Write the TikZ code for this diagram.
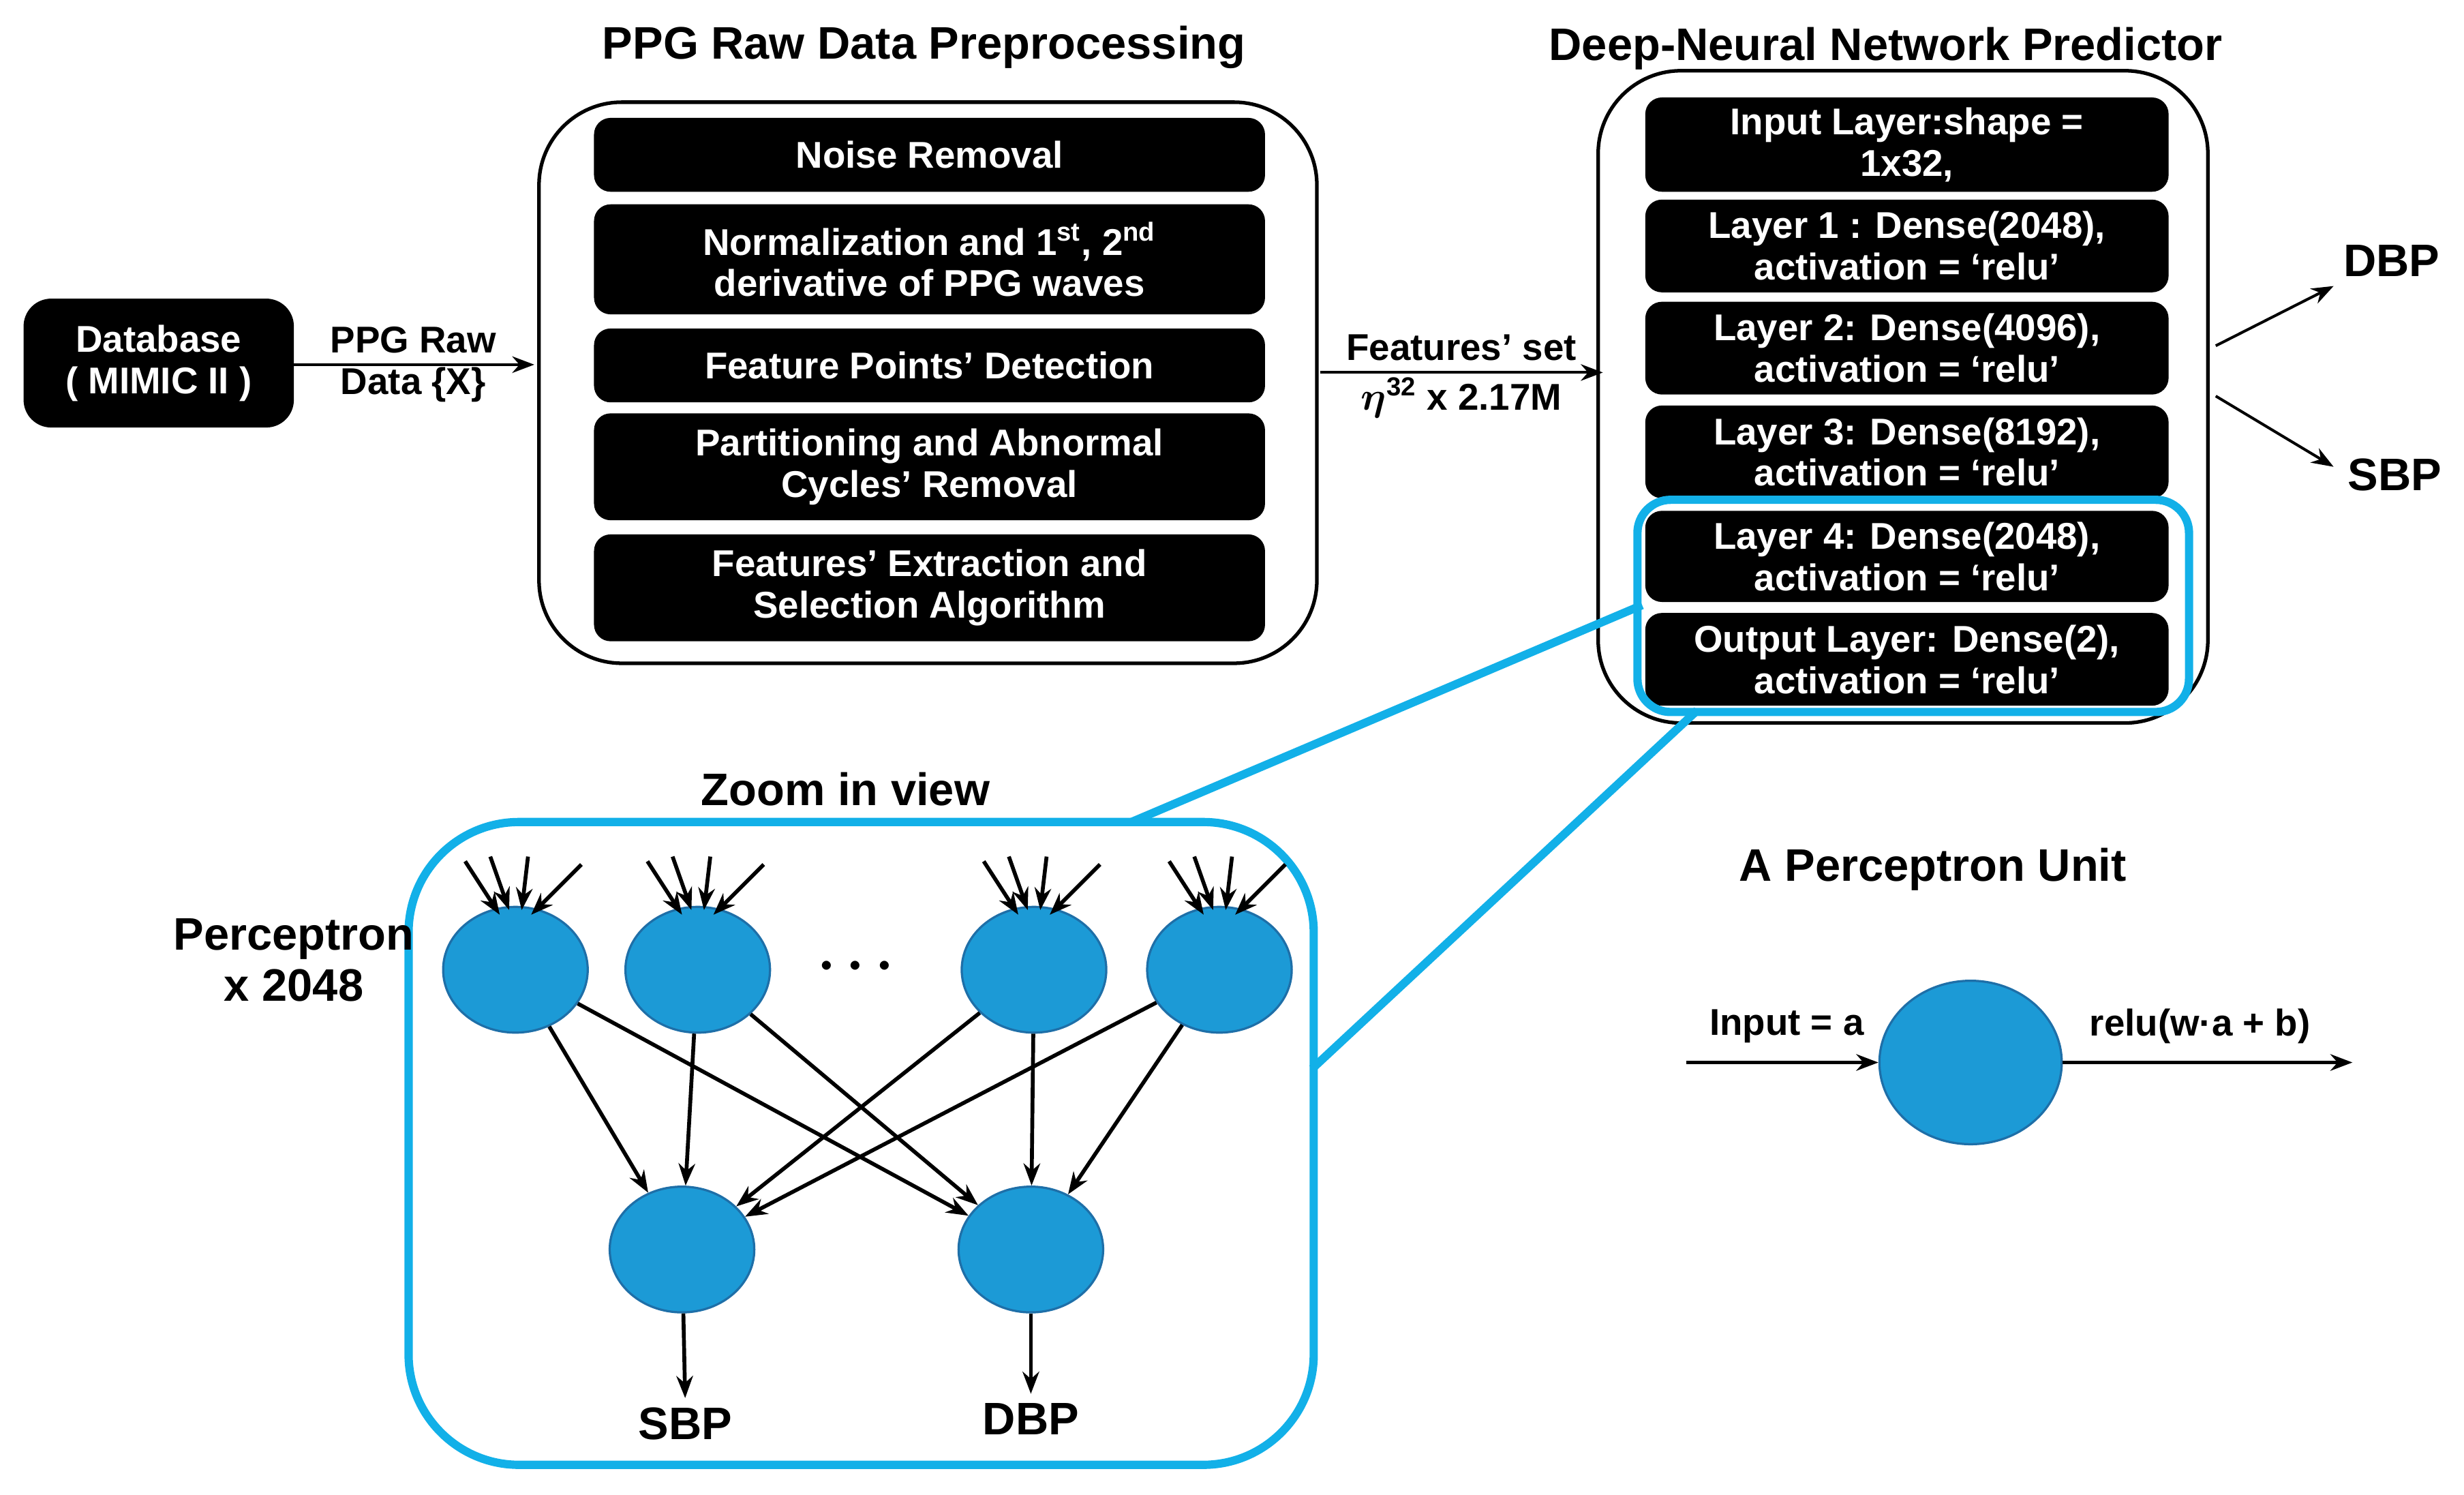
\documentclass[tikz,border=0pt]{standalone}
\usepackage{amsmath}
\usepackage{bm}
\usepackage{fontspec}
\setmainfont{Liberation Sans}
\usetikzlibrary{arrows.meta,shapes.geometric}
\definecolor{cy}{HTML}{12B0E8}
\definecolor{bl}{HTML}{1C9AD6}
\definecolor{bld}{HTML}{1E6FA8}
\begin{document}
\begin{tikzpicture}[x=0.02cm,y=-0.02cm,
  bb/.style={fill=black,rounded corners=6pt,text=white,font=\bfseries\fontsize{13.5}{15}\selectfont,align=center,inner sep=0pt},
  tt/.style={font=\bfseries\fontsize{13.5}{15}\selectfont,align=center},
  ttl/.style={font=\bfseries\fontsize{16.5}{18.5}\selectfont},
  arr/.style={-{Stealth[length=8pt,width=6pt]},line width=1.4pt},
  cel/.style={ellipse,fill=bl,draw=bld,line width=0.8pt,inner sep=0pt}]
\useasboundingbox (0,0) rectangle (1568,951);
% Database
\node[bb,minimum width=172*0.02cm,minimum height=82*0.02cm,rounded corners=10pt] (db) at (101,231) {Database\\( MIMIC II )};
% Preprocessing box
\node[ttl] (t1) at (588,30) {PPG Raw Data Preprocessing};
\node[draw,line width=1.3pt,rounded corners=30pt,minimum width=495*0.02cm,minimum height=357*0.02cm] (pp) at (590.5,243.5) {};
\foreach \n/\ya/\yb/\t in {n1/75/122/{Noise Removal},
  n2/130/200/{Normalization and 1\textsuperscript{st}, 2\textsuperscript{nd}\\derivative of PPG waves},
  n3/209/256/{Feature Points’ Detection},
  n4/263/331/{Partitioning and Abnormal\\Cycles’ Removal},
  n5/340/408/{Features’ Extraction and\\Selection Algorithm}}
  \node[bb,minimum width=427*0.02cm,minimum height={(\yb-\ya)*0.02cm}] (\n) at (591.5,{(\ya+\yb)/2}) {\t};
\coordinate (a1s) at (187,232); \coordinate (a1e) at (340,232);
\draw[arr,line width=1pt] (a1s) -- (a1e);
\node[tt] (l1) at (263,232) {PPG Raw\\Data \{X\}};
% features arrow
\coordinate (a2s) at (840,237); \coordinate (a2e) at (1020,237);
\draw[arr,line width=1pt] (a2s) -- (a2e);
\node[tt] (l2a) at (930,221) {Features’ set};
\node[tt] (l2b) at (930,253) {$\bm{\eta}^{\mathbf{32}}$ x 2.17M};
% DNN
\node[ttl] (t2) at (1200,31) {Deep-Neural Network Predictor};
\node[draw,line width=1.3pt,rounded corners=30pt,minimum width=388*0.02cm,minimum height=415*0.02cm] (dnn) at (1211,252.5) {};
\foreach \n/\ya/\yb/\t in {d0/62/122/{Input Layer:shape =\\1x32,},
  d1/127/186/{Layer 1 : Dense(2048),\\activation = ‘relu’},
  d2/192/251/{Layer 2: Dense(4096),\\activation = ‘relu’},
  d3/258/317/{Layer 3: Dense(8192),\\activation = ‘relu’},
  d4/325/383/{Layer 4: Dense(2048),\\activation = ‘relu’},
  d5/390/449/{Output Layer: Dense(2),\\activation = ‘relu’}}
  \node[bb,minimum width=333*0.02cm,minimum height={(\yb-\ya)*0.02cm}] (\n) at (1213.5,{(\ya+\yb)/2}) {\t};
\node[draw=cy,line width=3pt,rounded corners=12pt,minimum width=351*0.02cm,minimum height=135*0.02cm] (hl) at (1217.5,385.5) {};
\coordinate (o1) at (1410,220); \coordinate (o1e) at (1485,182);
\coordinate (o2) at (1410,252); \coordinate (o2e) at (1485,297);
\draw[arr,line width=1pt] (o1) -- (o1e); \draw[arr,line width=1pt] (o2) -- (o2e);
\node[ttl] (dbp) at (1522,166) {DBP};
\node[ttl] (sbp) at (1524,302) {SBP};
% zoom
\node[draw=cy,line width=3pt,rounded corners=40pt,minimum width=576*0.02cm,minimum height=409*0.02cm] (zb) at (548,727.5) {};
\coordinate (c1) at (1045,385); \coordinate (c1e) at (720,523);
\coordinate (c2) at (1080,452); \coordinate (c2e) at (835,680);
\draw[cy,line width=3pt] (c1) -- (c1e) (c2) -- (c2e);
\node[ttl] (zt) at (538,502) {Zoom in view};
\node[ttl,align=center] (pc) at (187,611) {Perceptron\\x 2048};
\foreach \n/\x in {p1/328,p2/444,p3/658,p4/776}{
  \node[cel,minimum width=92*0.02cm,minimum height=80*0.02cm] (\n) at (\x,617) {};
  \draw[arr] ({\x-32},548) -- ({\x-10},582);
  \draw[arr] ({\x-16},545) -- ({\x-4},579);
  \draw[arr] ({\x+8},545) -- ({\x+4},579);
  \draw[arr] ({\x+42},550) -- ({\x+10},582);
}
\node[font=\bfseries\fontsize{20}{20}\selectfont] (dots) at (548,615) {$\boldsymbol{\cdots}$};
\node[cel,minimum width=92*0.02cm,minimum height=80*0.02cm] (q1) at (434,795) {};
\node[cel,minimum width=92*0.02cm,minimum height=80*0.02cm] (q2) at (656,795) {};
\foreach \p in {p1,p2,p3,p4}\foreach \q in {q1,q2}\draw[arr] (\p) -- (\q);
\node[ttl] (sb) at (436,906) {SBP};
\node[ttl] (db2) at (656,903) {DBP};
\draw[arr] (q1) -- (sb.north);
\draw[arr] (q2) -- (db2.north);
% perceptron unit
\node[ttl] (pu) at (1230,553) {A Perceptron Unit};
\node[cel,minimum width=116*0.02cm,minimum height=104*0.02cm] (u) at (1254,676) {};
\coordinate (ui) at (1073,676); \coordinate (uo) at (1497,676);
\draw[arr,line width=1.2pt] (ui) -- (u); \draw[arr,line width=1.2pt] (u) -- (uo);
\node[tt] (il) at (1137,653) {Input = a};
\node[tt] (ol) at (1400,653) {relu(w·a + b)};
\end{tikzpicture}
\end{document}
